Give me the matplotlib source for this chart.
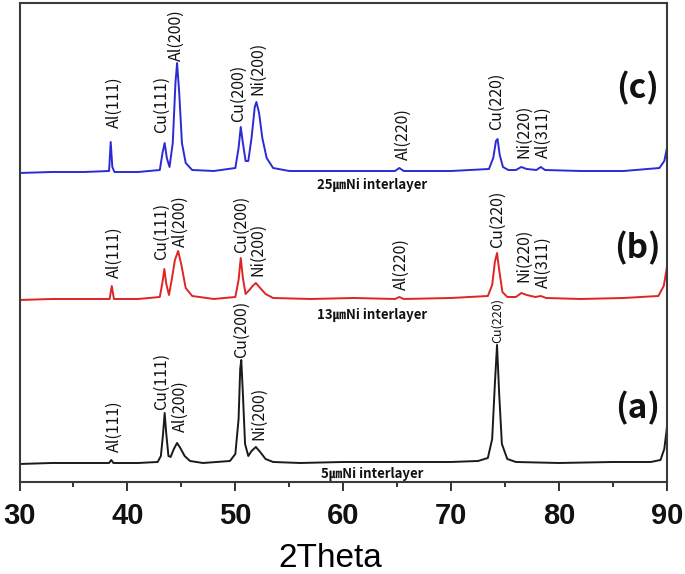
import matplotlib
matplotlib.use("Agg")
import matplotlib.pyplot as plt
from matplotlib.ticker import MultipleLocator

# ---- data (intensity in arbitrary units, baseline ~0) ----
xa = [30.0, 33.0, 36.0, 38.3, 38.5, 38.7, 41.0, 42.8, 43.1, 43.3, 43.45, 43.6, 43.8, 44.0,
      44.3, 44.6, 44.9, 45.3, 45.8, 47.0, 49.5, 50.0, 50.3, 50.45, 50.55, 50.7, 50.9,
      51.2, 51.5, 51.9, 52.3, 52.8, 53.5, 56.0, 60.0, 65.0, 70.0, 72.5,
      73.4, 73.8, 74.05, 74.25, 74.45, 74.7, 75.2, 76.0, 80.0, 85.0, 88.5, 89.4, 89.75, 90.0]
ya = [0, 1, 1, 1, 4, 1, 1, 2, 8, 30, 51, 30, 8, 7,
      15, 21, 16, 8, 3, 1, 3, 10, 45, 95, 104, 70, 20,
      8, 13, 17, 12, 5, 2, 1, 2, 2, 2, 3,
      6, 25, 80, 119, 70, 20, 5, 2, 1, 2, 2, 4, 15, 37]

xb = [30.0, 33.0, 36.0, 38.35, 38.55, 38.75, 41.0, 43.0, 43.25, 43.42, 43.6, 43.85,
      44.1, 44.4, 44.7, 45.0, 45.4, 46.0, 48.0, 50.0, 50.3, 50.5, 50.7, 50.95,
      51.3, 51.6, 51.9, 52.3, 52.8, 53.5, 57.0, 61.0, 64.8, 65.2, 65.6, 70.0,
      73.4, 73.8, 74.05, 74.25, 74.45, 74.75, 75.2, 76.0, 76.5, 77.0, 77.8, 78.3,
      78.8, 82.0, 86.0, 89.2, 89.7, 90.0]
yb = [0, 1, 1, 1, 14, 1, 1, 3, 18, 31, 16, 5,
      20, 40, 49, 35, 12, 4, 1, 3, 20, 42, 22, 6,
      10, 14, 17, 12, 6, 2, 1, 2, 1, 3, 1, 2,
      4, 15, 38, 47, 30, 8, 3, 3, 7, 5, 3, 4,
      2, 1, 2, 4, 14, 33]

xc = [30.0, 33.0, 36.0, 38.3, 38.45, 38.6, 38.8, 41.0, 43.0, 43.25, 43.45, 43.65, 43.9,
      44.2, 44.45, 44.6, 44.8, 45.05, 45.4, 46.0, 48.0, 50.0, 50.3, 50.5, 50.7, 50.95,
      51.2, 51.5, 51.8, 51.95, 52.2, 52.5, 52.9, 53.5, 55.0, 60.0, 64.8, 65.2, 65.6, 70.0,
      73.5, 73.9, 74.15, 74.3, 74.5, 74.8, 75.3, 76.0, 76.5, 77.0, 77.9, 78.3, 78.7,
      82.0, 86.0, 89.3, 89.75, 90.0]
yc = [0, 1, 1, 2, 31, 6, 1, 1, 3, 20, 30, 15, 6,
      30, 90, 110, 80, 30, 10, 3, 2, 5, 25, 46, 30, 12,
      12, 35, 66, 71, 60, 35, 15, 5, 2, 2, 2, 5, 2, 2,
      4, 15, 32, 34, 18, 6, 3, 3, 6, 4, 3, 6, 3,
      2, 2, 5, 12, 25]

offsets = [20, 184, 311]
colors = ["#1a1a1a", "#e02424", "#2b2bd6"]
interlayer = ["5㎛Ni interlayer", "13㎛Ni interlayer", "25㎛Ni interlayer"]
panels = ["(a)", "(b)", "(c)"]

# peak labels: (text, x, y-bottom)
labels_a = [("Al(111)", 38.8, 32), ("Cu(111)", 43.15, 74), ("Al(200)", 44.9, 52),
            ("Cu(200)", 50.55, 126), ("Ni(200)", 52.2, 44)]
labels_a_small = [("Cu(220)", 74.25, 141)]
labels_b = [("Al(111)", 38.8, 206), ("Cu(111)", 43.15, 224), ("Al(200)", 44.9, 237),
            ("Cu(200)", 50.55, 231), ("Ni(200)", 52.1, 208), ("Al(220)", 65.4, 194),
            ("Cu(220)", 74.25, 236), ("Ni(220)", 76.7, 202), ("Al(311)", 78.5, 196)]
labels_c = [("Al(111)", 38.8, 356), ("Cu(111)", 43.15, 351), ("Al(200)", 44.5, 423),
            ("Cu(200)", 50.3, 362), ("Ni(200)", 52.1, 389), ("Al(220)", 65.55, 324),
            ("Cu(220)", 74.2, 354), ("Ni(220)", 76.7, 326), ("Al(311)", 78.5, 326)]

fig = plt.figure(figsize=(6.85, 5.74), dpi=100)
ax = fig.add_axes([0.0285, 0.1603, 0.9452, 0.835])

for xs, ys, off, c in zip([xa, xb, xc], [ya, yb, yc], offsets, colors):
    ax.plot(xs, [v + off for v in ys], color=c, lw=1.4)

lab_font = ["Noto Sans CJK KR", "DejaVu Sans"]
for group in (labels_a, labels_b, labels_c):
    for t, x, y in group:
        ax.text(x, y, t, rotation=90, ha="center", va="bottom", fontsize=11.5,
                fontweight="medium", family=lab_font, color="#111111")
for t, x, y in labels_a_small:
    ax.text(x, y, t, rotation=90, ha="center", va="bottom", fontsize=9,
            fontweight="medium", family=lab_font, color="#111111")

for t, y in zip(interlayer, [10, 169, 299]):
    ax.text(62.7, y, t, ha="center", va="center", fontsize=9.5, fontweight="bold",
            family=lab_font, color="#111111")
for t, y in zip(panels, [76, 236, 396]):
    ax.text(87.3, y, t, ha="center", va="center", fontsize=24, fontweight="bold",
            family=lab_font, color="#111111")

ax.set_xlim(30, 90)
ax.set_ylim(2, 481.3)
ax.set_yticks([])
ax.xaxis.set_major_locator(MultipleLocator(10))
ax.xaxis.set_minor_locator(MultipleLocator(5))
ax.tick_params(axis="x", which="major", direction="out", length=6.5, width=1.2,
               pad=8, colors="#111111")
ax.tick_params(axis="x", which="minor", direction="out", length=3.6, width=1.2,
               colors="#111111")
tick_font = ["Liberation Sans", "DejaVu Sans"]
for lbl in ax.get_xticklabels():
    lbl.set_family(tick_font)
    lbl.set_fontweight("bold")
    lbl.set_fontsize(21)
ax.set_xlabel("2Theta", family=tick_font, fontsize=24)
ax.xaxis.label.set_va("baseline")
ax.xaxis.set_label_coords(0.48, -0.177)
for s in ax.spines.values():
    s.set_color("#3a3a3a")
    s.set_linewidth(1.5)

fig.savefig("out.png", dpi=100)
